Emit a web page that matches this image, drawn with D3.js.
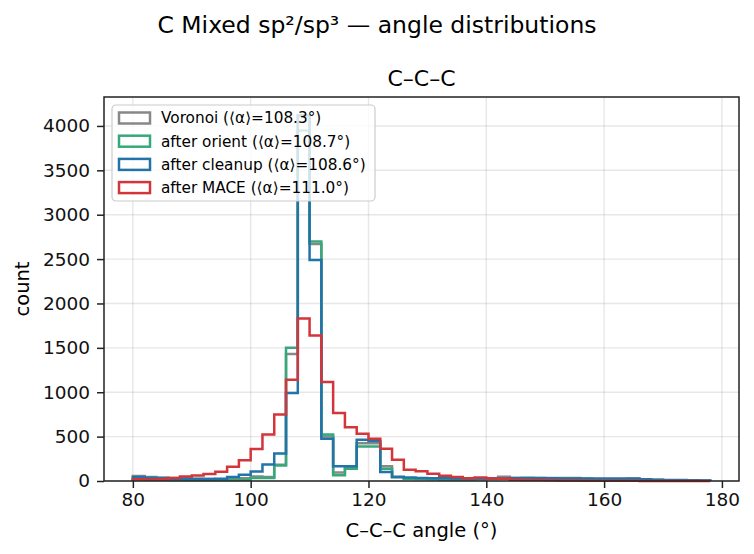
<!DOCTYPE html>
<html>
<head>
<meta charset="utf-8">
<script src="https://cdn.jsdelivr.net/npm/d3@7"></script>
<style>
  body { margin: 0; background: #fff; }
  svg { font-family: "DejaVu Sans", sans-serif; }
</style>
</head>
<body>
<svg id="chart"></svg>
<script>
// bin edges: 80, 82, ... 178 (49 bins, width 2)
const binStart = 80;
const binWidth = 2;

const seriesNames = [
  "Voronoi (\u27E8\u03B1\u27E9=108.3\u00B0)",
  "after orient (\u27E8\u03B1\u27E9=108.7\u00B0)",
  "after cleanup (\u27E8\u03B1\u27E9=108.6\u00B0)",
  "after MACE (\u27E8\u03B1\u27E9=111.0\u00B0)"
];

const voronoi = [55, 45, 40, 35, 30, 25, 22, 20, 22, 30, 50, 45, 183, 1430, 4110, 2670, 500, 95, 145, 425,
  425, 165, 45, 32, 28, 25, 22, 20, 20, 22, 28, 48, 37, 37, 35, 35, 35, 35, 24, 20,
  18, 15, 14, 12, 10, 8, 6, 5, 3];
const orient = [20, 18, 15, 12, 10, 10, 10, 10, 12, 15, 35, 35, 176, 1500, 3950, 2697, 523, 64, 139, 389,
  389, 139, 45, 25, 22, 20, 18, 18, 18, 20, 22, 25, 28, 35, 35, 30, 28, 25, 22, 20,
  20, 20, 25, 15, 12, 8, 6, 5, 3];
const cleanup = [45, 38, 30, 25, 22, 22, 22, 25, 45, 70, 108, 187, 310, 990, 4120, 2490, 475, 165, 165, 465,
  450, 100, 45, 40, 35, 30, 30, 28, 28, 28, 28, 28, 30, 30, 30, 30, 28, 28, 28, 27,
  27, 27, 27, 20, 15, 12, 10, 8, 6];
const mace = [20, 18, 20, 35, 50, 62, 80, 105, 160, 235, 360, 525, 750, 1140, 1830, 1640, 1115, 766, 605, 531,
  475, 363, 240, 128, 109, 83, 60, 45, 32, 40, 27, 25, 15, 12, 10, 8, 6, 5, 4, 3,
  3, 2, 2, 1, 1, 1, 0, 0, 0];

const seriesColors = ["#888888", "#36a97a", "#2173a8", "#d2353a"];

const xTicks = [80, 100, 120, 140, 160, 180];
const yTicks = [0, 500, 1000, 1500, 2000, 2500, 3000, 3500, 4000];

const allSeries = [voronoi, orient, cleanup, mace];

const W = 754, H = 554;
const margin = { top: 97, right: 15, bottom: 73, left: 104 };
const width = W - margin.left - margin.right;
const height = H - margin.top - margin.bottom;

const svg = d3.select("#chart").attr("width", W).attr("height", H);

const nBins = voronoi.length;
const xMin = binStart, xMax = binStart + nBins * binWidth;
const pad = (xMax - xMin) * 0.05;
const yMaxData = d3.max(allSeries, s => d3.max(s));

const xScale = d3.scaleLinear().domain([xMin - pad, xMax + pad]).range([0, width]);
const yScale = d3.scaleLinear().domain([0, yMaxData * 1.05]).range([height, 0]);

const chart = svg.append("g").attr("transform", `translate(${margin.left},${margin.top})`);

// grid
chart.append("g").selectAll("line").data(xTicks).join("line")
  .attr("x1", d => xScale(d)).attr("x2", d => xScale(d))
  .attr("y1", 0).attr("y2", height)
  .attr("stroke", "#b0b0b0").attr("stroke-opacity", 0.3).attr("stroke-width", 1.4);
chart.append("g").selectAll("line").data(yTicks).join("line")
  .attr("x1", 0).attr("x2", width)
  .attr("y1", d => yScale(d)).attr("y2", d => yScale(d))
  .attr("stroke", "#b0b0b0").attr("stroke-opacity", 0.3).attr("stroke-width", 1.4);

// step outline for one series
function stepPoints(vals) {
  const pts = [[xMin, 0]];
  vals.forEach((v, i) => {
    const x0 = binStart + i * binWidth;
    pts.push([x0, v]);
    pts.push([x0 + binWidth, v]);
  });
  pts.push([xMax, 0]);
  return pts;
}

const line = d3.line()
  .x(d => xScale(d[0]))
  .y(d => yScale(d[1]));

allSeries.forEach((s, i) => {
  chart.append("path")
    .attr("d", line(stepPoints(s)))
    .attr("fill", "none")
    .attr("stroke", seriesColors[i])
    .attr("stroke-width", 2.5)
    .attr("stroke-linejoin", "miter");
});

// axes
const xAxis = chart.append("g").attr("transform", `translate(0,${height})`)
  .call(d3.axisBottom(xScale).tickValues(xTicks).tickSize(7).tickPadding(5));
const yAxis = chart.append("g")
  .call(d3.axisLeft(yScale).tickValues(yTicks).tickFormat(d3.format("d")).tickSize(7).tickPadding(7));
[xAxis, yAxis].forEach(a => {
  a.select(".domain").remove();
  a.selectAll(".tick line").attr("stroke", "#222").attr("stroke-width", 1.5);
  a.selectAll(".tick text").attr("font-size", 18.5).attr("fill", "#111")
    .attr("font-family", "DejaVu Sans");
});

// frame
chart.append("rect").attr("width", width).attr("height", height)
  .attr("fill", "none").attr("stroke", "#222").attr("stroke-width", 1.5);

// legend
const legend = chart.append("g").attr("transform", "translate(8,8)");
legend.append("rect").attr("width", 263).attr("height", 96)
  .attr("rx", 4).attr("fill", "#fff").attr("fill-opacity", 0.8)
  .attr("stroke", "#cccccc").attr("stroke-width", 1.2);
seriesNames.forEach((name, i) => {
  const y = 13 + i * 23.2;
  legend.append("rect").attr("x", 7).attr("y", y - 5.5).attr("width", 31).attr("height", 11)
    .attr("fill", "none").attr("stroke", seriesColors[i]).attr("stroke-width", 2.5);
  legend.append("text").attr("x", 49).attr("y", y).attr("dy", "0.35em")
    .attr("font-size", 15.3).text(name);
});

// titles
chart.append("text").attr("x", width / 2).attr("y", -11).attr("text-anchor", "middle")
  .attr("font-size", 22).text("C\u2013C\u2013C");
svg.append("text").attr("x", W / 2).attr("y", 33).attr("text-anchor", "middle")
  .attr("font-size", 23.5).text("C Mixed sp\u00B2/sp\u00B3 \u2014 angle distributions");
svg.append("text").attr("x", margin.left + width / 2).attr("y", 537).attr("text-anchor", "middle")
  .attr("font-size", 19.5).text("C\u2013C\u2013C angle (\u00B0)");
svg.append("text").attr("transform", `translate(29,${margin.top + height / 2}) rotate(-90)`)
  .attr("text-anchor", "middle").attr("font-size", 19.5).text("count");
</script>
</body>
</html>
